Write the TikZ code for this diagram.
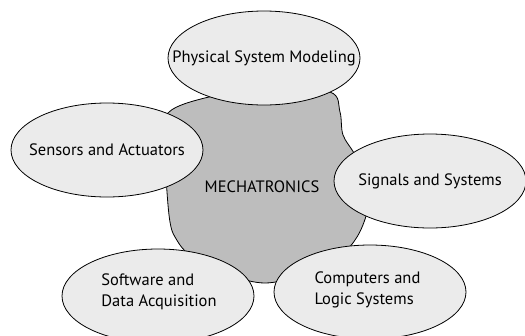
\documentclass[tikz,border=0pt]{standalone}
\usepackage{fontspec}
\setmainfont{PT Sans}
\usepackage{tikz}
\usetikzlibrary{shapes}

\begin{document}
\begin{tikzpicture}[x=1pt,y=-1pt,
  topic/.style={ellipse,draw,line width=0.8pt,fill=black!8,minimum width=192pt,minimum height=94pt,inner sep=0pt},
  lbl/.style={inner sep=0pt,align=left,font=\fontsize{16.5}{21}\selectfont},
  core/.style={draw,line width=0.8pt,fill=black!26}]
\useasboundingbox (0,0) rectangle (525,335);

% le noyau
\draw[core] plot[smooth cycle,tension=0.55] coordinates {(168,113) (213,96) (270,88) (330,92) (340,112) (343,135) (355,155) (368,185) (367,212) (357,237) (340,255) (300,275) (265,283) (230,275) (190,255) (175,237) (170,222) (167,192) (165,150)};
\node[lbl] (mecha) at (262,187) {MECHATRONICS};

% les domaines
\node[topic] (model) at (264,58) {};
\node[topic] (sens) at (107,150) {};
\node[topic] (sig) at (430,181) {};
\node[topic] (soft) at (158,296) {};
\node[topic] (comp) at (370,292) {};

% textes
\node[lbl] (modeltxt) at (model) {Physical System Modeling};
\node[lbl] (senstxt) at (sens) {Sensors and Actuators};
\node[lbl] (sigtxt) at (sig) {Signals and Systems};
\node[lbl] (softtxt) at (159,291.5) {Software and\\Data Acquisition};
\node[lbl] (comptxt) at (367.5,289.5) {Computers and\\Logic Systems};

\end{tikzpicture}
\end{document}
